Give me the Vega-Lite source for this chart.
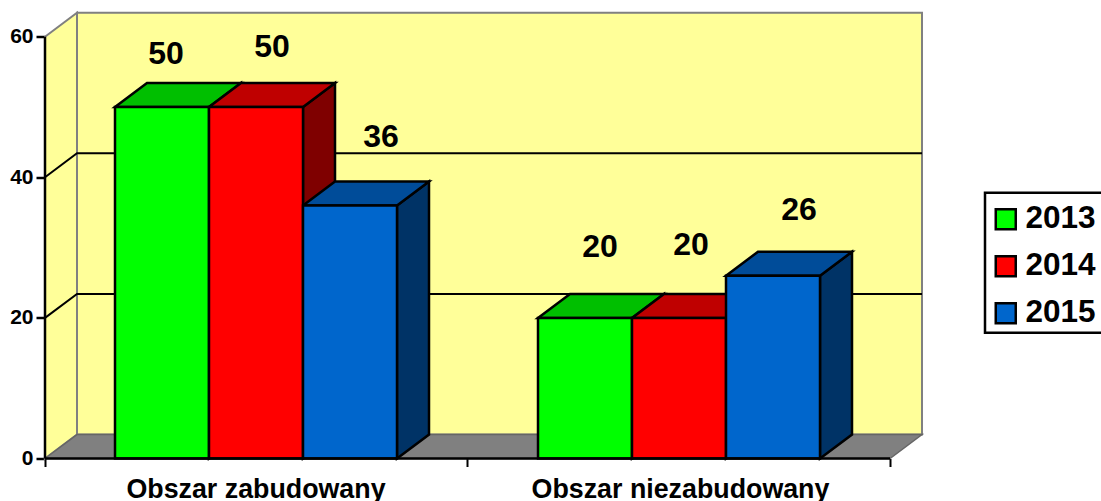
{
"$schema":"https://vega.github.io/schema/vega-lite/v6.json",
"width":877,"height":446,
"autosize":{"type":"none"},
"padding":{"left":45,"top":12.5,"right":179,"bottom":42.5},
"background":"white",
"config":{"view":{"stroke":null},"font":"Liberation Sans"},
"datasets":{"bars":[
{"category":"Obszar zabudowany","year":"2013","value":50},
{"category":"Obszar zabudowany","year":"2014","value":50},
{"category":"Obszar zabudowany","year":"2015","value":36},
{"category":"Obszar niezabudowany","year":"2013","value":20},
{"category":"Obszar niezabudowany","year":"2014","value":20},
{"category":"Obszar niezabudowany","year":"2015","value":26}
]},
"resolve":{"scale":{"color":"independent"}},
"layer":[
{"data":{"values":[{"x":0,"y":60,"y2":0},{"x":32,"y":63.41,"y2":3.41}]},
 "mark":{"type":"area","fill":"#FFFF99","stroke":"#808080","strokeWidth":2},
 "encoding":{
  "x":{"field":"x","type":"quantitative","scale":{"domain":[0,877],"nice":false,"zero":false},
   "axis":{"title":null,"values":[0,422,845],"labels":false,"domain":false,"grid":false,"tickSize":8,"tickWidth":2,"tickColor":"black"}},
  "y":{"field":"y","type":"quantitative","scale":{"domain":[0,63.44],"nice":false,"zero":false},
   "axis":{"title":null,"values":[0,20,40,60],"domain":false,"grid":false,"tickSize":9,"tickWidth":2.5,"tickColor":"black","labelFont":"Liberation Sans","labelFontWeight":"bold","labelFontSize":21,"labelColor":"black","labelPadding":3}},
  "y2":{"field":"y2"}}},
{"data":{"values":[{"x":32,"x2":877,"y":63.41,"y2":3.41}]},
 "mark":{"type":"rect","fill":"#FFFF99","stroke":"#808080","strokeWidth":2},
 "encoding":{"x":{"field":"x","type":"quantitative"},"x2":{"field":"x2"},"y":{"field":"y","type":"quantitative"},"y2":{"field":"y2"}}},
{"data":{"values":[{"x":0,"y":0,"y2":0},{"x":32,"y":3.41,"y2":0},{"x":845,"y":3.41,"y2":0},{"x":877,"y":3.41,"y2":3.41}]},
 "mark":{"type":"area","fill":"#808080","stroke":"#666666","strokeWidth":1.5},
 "encoding":{"x":{"field":"x","type":"quantitative"},"y":{"field":"y","type":"quantitative"},"y2":{"field":"y2"}}},
{"data":{"values":[{"g":20,"x":0,"y":20},{"g":20,"x":32,"y":23.41},{"g":20,"x":877,"y":23.41},{"g":40,"x":0,"y":40},{"g":40,"x":32,"y":43.41},{"g":40,"x":877,"y":43.41}]},
 "mark":{"type":"line","stroke":"black","strokeWidth":2},
 "encoding":{"x":{"field":"x","type":"quantitative"},"y":{"field":"y","type":"quantitative"},"detail":{"field":"g"}}},
{"data":{"name":"bars"},
 "transform":[
  {"calculate":"(datum.category==='Obszar zabudowany'?70:493)+94*(+datum.year-2013)","as":"x0"},
  {"calculate":"[0,1]","as":"corner"},{"flatten":["corner"]},
  {"calculate":"datum.x0+94+32*datum.corner","as":"px"},
  {"calculate":"datum.value+3.41*datum.corner","as":"py"},
  {"calculate":"3.41*datum.corner","as":"py2"}],
 "mark":{"type":"area","stroke":"black","strokeWidth":2.5,"strokeJoin":"miter"},
 "encoding":{"x":{"field":"px","type":"quantitative"},"y":{"field":"py","type":"quantitative"},"y2":{"field":"py2"},
  "detail":{"field":"category"},
  "color":{"field":"year","type":"nominal","legend":null,"scale":{"domain":["2013","2014","2015"],"range":["#007F00","#7F0000","#003366"]}}}},
{"data":{"name":"bars"},
 "transform":[
  {"calculate":"(datum.category==='Obszar zabudowany'?70:493)+94*(+datum.year-2013)","as":"x0"},
  {"calculate":"[0,1,2,3]","as":"corner"},{"flatten":["corner"]},
  {"calculate":"datum.x0+[0,32,94,126][datum.corner]","as":"px"},
  {"calculate":"datum.value+[0,0,0,3.41][datum.corner]","as":"py2"},
  {"calculate":"datum.value+[0,3.41,3.41,3.41][datum.corner]","as":"py"}],
 "mark":{"type":"area","stroke":"black","strokeWidth":2.5,"strokeJoin":"miter"},
 "encoding":{"x":{"field":"px","type":"quantitative"},"y":{"field":"py","type":"quantitative"},"y2":{"field":"py2"},
  "detail":{"field":"category"},
  "color":{"field":"year","type":"nominal","legend":null,"scale":{"domain":["2013","2014","2015"],"range":["#00BF00","#BF0000","#004C99"]}}}},
{"data":{"name":"bars"},
 "transform":[
  {"calculate":"(datum.category==='Obszar zabudowany'?70:493)+94*(+datum.year-2013)","as":"x0"},
  {"calculate":"datum.x0+94","as":"x1"},{"calculate":"0","as":"base"}],
 "mark":{"type":"rect","stroke":"black","strokeWidth":2.5},
 "encoding":{"x":{"field":"x0","type":"quantitative"},"x2":{"field":"x1"},"y":{"field":"value","type":"quantitative"},"y2":{"field":"base"},
  "color":{"field":"year","type":"nominal","title":null,"scale":{"domain":["2013","2014","2015"],"range":["#00FF00","#FF0000","#0066CC"]},
   "legend":{"orient":"none","legendX":935,"legendY":181,"title":null,"symbolType":"square","symbolSize":400,"symbolStrokeColor":"black","symbolStrokeWidth":2.5,"symbolOpacity":1,"labelFont":"Liberation Sans","labelFontWeight":"bold","labelFontSize":31.5,"labelColor":"black","labelOffset":4,"rowPadding":14,"padding":10,"labelLimit":200}}}},
{"data":{"values":[{"x":940,"x2":1100,"y":37.8,"y2":17.9}]},
 "mark":{"type":"rect","fill":null,"stroke":"black","strokeWidth":2.5,"clip":false},
 "encoding":{"x":{"field":"x","type":"quantitative"},"x2":{"field":"x2"},"y":{"field":"y","type":"quantitative"},"y2":{"field":"y2"}}},
{"data":{"values":[{"x":0,"y":0},{"x":0,"y":60}]},
 "mark":{"type":"line","stroke":"black","strokeWidth":2.5},
 "encoding":{"x":{"field":"x","type":"quantitative"},"y":{"field":"y","type":"quantitative"}}},
{"data":{"values":[{"x":0,"y":0},{"x":845,"y":0}]},
 "mark":{"type":"line","stroke":"black","strokeWidth":2.5},
 "encoding":{"x":{"field":"x","type":"quantitative"},"y":{"field":"y","type":"quantitative"}}},
{"data":{"name":"bars"},
 "transform":[
  {"calculate":"(datum.category==='Obszar zabudowany'?0:3)+(+datum.year-2013)","as":"i"},
  {"calculate":"(datum.category==='Obszar zabudowany'?70:493)+94*(+datum.year-2013)+47+[4,16,31,15,12,26][datum.i]","as":"lx"},
  {"calculate":"datum.value+[7.6,8.5,9.7,10.1,10.4,9.4][datum.i]","as":"ly"}],
 "mark":{"type":"text","font":"Liberation Sans","fontWeight":"bold","fontSize":32,"color":"black","align":"center","baseline":"middle"},
 "encoding":{"x":{"field":"lx","type":"quantitative"},"y":{"field":"ly","type":"quantitative"},"text":{"field":"value","type":"quantitative"}}},
{"data":{"values":[{"category":"Obszar zabudowany","x":211,"y":0},{"category":"Obszar niezabudowany","x":635.5,"y":0}]},
 "mark":{"type":"text","font":"Liberation Sans","fontWeight":"bold","fontSize":26.8,"color":"black","align":"center","baseline":"middle","dy":31.5},
 "encoding":{"x":{"field":"x","type":"quantitative"},"y":{"field":"y","type":"quantitative"},"text":{"field":"category","type":"nominal"}}}
]
}
